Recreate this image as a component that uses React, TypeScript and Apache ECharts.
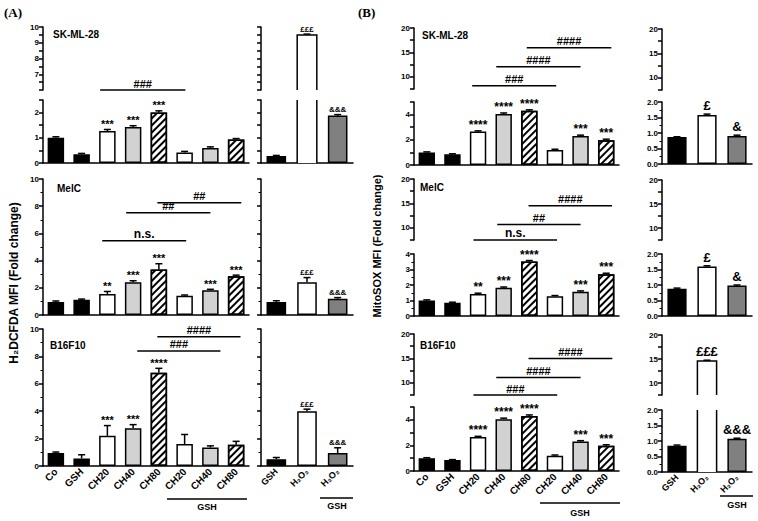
import React, { useEffect, useRef } from 'react';
import * as echarts from 'echarts';

const FONT = '"Liberation Sans", Arial, sans-serif';

const MAIN_CATS = ['Co', 'GSH', 'CH20', 'CH40', 'CH80', 'CH20', 'CH40', 'CH80'];
const SIDE_CATS = ['GSH', 'H₂O₂', 'H₂O₂'];

// ---- Panel A (H2DCFDA) ----
const A_SK_VALUES = [1.0, 0.35, 1.27, 1.43, 2.0, 0.42, 0.6, 0.93];
const A_SK_ERRORS = [0.04, 0.03, 0.06, 0.05, 0.07, 0.04, 0.04, 0.04];
const A_SK_STARS = ['', '', '***', '***', '***', '', '', ''];
const A_SK_BRACKETS: [number, number, number, string][] = [[1.72, 5.03, 6.0, '###']];
const A_SK_SIDE_VALUES = [0.28, 9.5, 1.88];
const A_SK_SIDE_ERRORS = [0.02, 0.05, 0.04];
const A_SK_SIDE_MARKS = ['', '£££', '&&&'];

const A_MELC_VALUES = [0.95, 1.12, 1.55, 2.4, 3.35, 1.42, 1.82, 2.85];
const A_MELC_ERRORS = [0.08, 0.05, 0.18, 0.12, 0.42, 0.05, 0.07, 0.08];
const A_MELC_STARS = ['', '', '**', '***', '***', '', '***', '***'];
const A_MELC_BRACKETS: [number, number, number, string][] = [
  [1.8, 5.06, 5.46, 'n.s.'],
  [2.73, 6.0, 7.52, '##'],
  [3.94, 7.2, 8.26, '##'],
];
const A_MELC_SIDE_VALUES = [0.95, 2.4, 1.2];
const A_MELC_SIDE_ERRORS = [0.1, 0.35, 0.08];
const A_MELC_SIDE_MARKS = ['', '£££', '&&&'];

const A_B16_VALUES = [0.95, 0.55, 2.2, 2.75, 6.8, 1.6, 1.35, 1.55];
const A_B16_ERRORS = [0.07, 0.27, 0.75, 0.27, 0.33, 0.7, 0.12, 0.25];
const A_B16_STARS = ['', '', '***', '***', '****', '', '', ''];
const A_B16_BRACKETS: [number, number, number, string][] = [
  [3.16, 6.39, 8.4, '###'],
  [3.94, 7.17, 9.44, '####'],
];
const A_B16_SIDE_VALUES = [0.5, 4.0, 0.95];
const A_B16_SIDE_ERRORS = [0.12, 0.15, 0.38];
const A_B16_SIDE_MARKS = ['', '£££', '&&&'];

// ---- Panel B (MitoSOX) ----
const B_SK_VALUES = [1.0, 0.85, 2.65, 4.05, 4.3, 1.2, 2.3, 1.97];
const B_SK_ERRORS = [0.04, 0.04, 0.06, 0.08, 0.08, 0.05, 0.07, 0.08];
const B_SK_STARS = ['', '', '****', '****', '****', '', '***', '***'];
const B_SK_BRACKETS: [number, number, number, string][] = [
  [1.77, 5.05, 8.18, '###'],
  [2.71, 6.0, 12.07, '####'],
  [3.9, 7.2, 15.96, '####'],
];
const B_SK_SIDE_VALUES = [0.87, 1.58, 0.9];
const B_SK_SIDE_ERRORS = [0.01, 0.03, 0.03];
const B_SK_SIDE_MARKS = ['', '£', '&'];

const B_MELC_VALUES = [1.0, 0.85, 1.42, 1.82, 3.52, 1.27, 1.57, 2.7];
const B_MELC_ERRORS = [0.04, 0.04, 0.05, 0.05, 0.06, 0.05, 0.05, 0.06];
const B_MELC_STARS = ['', '', '**', '***', '****', '', '***', '***'];
const B_MELC_BRACKETS: [number, number, number, string][] = [
  [1.82, 5.08, 7.5, 'n.s.'],
  [2.75, 6.0, 10.7, '##'],
  [3.97, 7.23, 14.5, '####'],
];
const B_MELC_SIDE_VALUES = [0.88, 1.6, 0.98];
const B_MELC_SIDE_ERRORS = [0.02, 0.02, 0.02];
const B_MELC_SIDE_MARKS = ['', '£', '&'];

const B_B16_VALUES = [1.0, 0.85, 2.65, 4.05, 4.3, 1.2, 2.3, 1.97];
const B_B16_ERRORS = [0.04, 0.04, 0.06, 0.08, 0.08, 0.05, 0.07, 0.08];
const B_B16_STARS = ['', '', '****', '****', '****', '', '***', '***'];
const B_B16_BRACKETS: [number, number, number, string][] = [
  [1.82, 5.09, 7.5, '###'],
  [2.71, 6.0, 11.1, '####'],
  [3.97, 7.24, 15.0, '####'],
];
const B_B16_SIDE_VALUES = [0.85, 14.6, 1.07];
const B_B16_SIDE_ERRORS = [0.02, 0.15, 0.02];
const B_B16_SIDE_MARKS = ['', '£££', '&&&'];

// ---- styles / layout ----
const MAIN_FILLS = ['black', 'black', 'white', 'light', 'hatch', 'white', 'light', 'hatch'];
const SIDE_FILLS = ['black', 'white', 'dark'];
const BAR_FRAC = 0.64;

type Seg = { top: number; height: number; min: number; max: number; interval: number; minor?: number; fmt?: (v: number) => string };

const intFrom = (lo: number) => (v: number) => (Math.abs(v - Math.round(v)) < 1e-6 && v >= lo ? String(Math.round(v)) : '');
const evenLabel = (v: number) => (Math.abs(v - Math.round(v)) < 1e-6 && Math.round(v) % 2 === 0 ? String(Math.round(v)) : '');
const fiveLabel = (v: number) => (Math.abs(v / 5 - Math.round(v / 5)) < 1e-6 && v >= 10 ? String(Math.round(v)) : '');
const oneDec = (v: number) => v.toFixed(1);
const plain = (v: number) => String(v);

const segA1 = (): Seg[] => [
  { top: 27, height: 63, min: 6, max: 10, interval: 0.5, fmt: intFrom(7) },
  { top: 100, height: 63, min: 0, max: 2.5, interval: 0.5, fmt: intFrom(0) },
];
const segA2 = (): Seg[] => [{ top: 179, height: 136, min: 0, max: 10, interval: 2, minor: 2, fmt: plain }];
const segA3 = (): Seg[] => [{ top: 329, height: 137, min: 0, max: 10, interval: 2, minor: 2, fmt: plain }];
const topB = (top: number, height: number): Seg => ({ top, height, min: 7.5, max: 20, interval: 2.5, fmt: fiveLabel });

const FILL_STYLES: Record<string, any> = {
  black: { color: '#000', borderColor: '#000', borderWidth: 1.5 },
  white: { color: '#fff', borderColor: '#000', borderWidth: 1.5 },
  light: { color: '#d2d2d2', borderColor: '#000', borderWidth: 1.5 },
  dark: { color: '#808080', borderColor: '#000', borderWidth: 1.5 },
  hatch: {
    color: '#fff', borderColor: '#000', borderWidth: 1.5,
    decal: { symbol: 'rect', symbolSize: 1, dashArrayX: [1, 0], dashArrayY: [2, 3], rotation: -Math.PI / 4, color: '#000' },
  },
};

type ChartDef = {
  left: number; width: number; segs: Seg[]; cats: string[]; values: number[]; errors: number[]; marks: string[];
  brackets?: [number, number, number, string][]; fills: string[]; yLabels: boolean; xLabels: boolean; xFont: number; markSize: number; markGap: number;
};

function buildOption() {
  const grids: any[] = [], xAxes: any[] = [], yAxes: any[] = [], series: any[] = [];
  const CAP = 3.5;
  const LINE = { stroke: '#000', lineWidth: 1.5 };

  const charts: ChartDef[] = [
    { left: 43, width: 206, segs: segA1(), cats: MAIN_CATS, values: A_SK_VALUES, errors: A_SK_ERRORS, marks: A_SK_STARS, brackets: A_SK_BRACKETS, fills: MAIN_FILLS, yLabels: true, xLabels: false, xFont: 10, markSize: 11, markGap: 0 },
    { left: 261, width: 92, segs: segA1(), cats: SIDE_CATS, values: A_SK_SIDE_VALUES, errors: A_SK_SIDE_ERRORS, marks: A_SK_SIDE_MARKS, fills: SIDE_FILLS, yLabels: false, xLabels: false, xFont: 9, markSize: 8, markGap: 1 },
    { left: 43, width: 206, segs: segA2(), cats: MAIN_CATS, values: A_MELC_VALUES, errors: A_MELC_ERRORS, marks: A_MELC_STARS, brackets: A_MELC_BRACKETS, fills: MAIN_FILLS, yLabels: true, xLabels: false, xFont: 10, markSize: 11, markGap: 0 },
    { left: 261, width: 92, segs: segA2(), cats: SIDE_CATS, values: A_MELC_SIDE_VALUES, errors: A_MELC_SIDE_ERRORS, marks: A_MELC_SIDE_MARKS, fills: SIDE_FILLS, yLabels: false, xLabels: false, xFont: 9, markSize: 8, markGap: 1 },
    { left: 43, width: 206, segs: segA3(), cats: MAIN_CATS, values: A_B16_VALUES, errors: A_B16_ERRORS, marks: A_B16_STARS, brackets: A_B16_BRACKETS, fills: MAIN_FILLS, yLabels: true, xLabels: true, xFont: 10, markSize: 11, markGap: 0 },
    { left: 261, width: 92, segs: segA3(), cats: SIDE_CATS, values: A_B16_SIDE_VALUES, errors: A_B16_SIDE_ERRORS, marks: A_B16_SIDE_MARKS, fills: SIDE_FILLS, yLabels: false, xLabels: true, xFont: 9, markSize: 8, markGap: 1 },

    { left: 414, width: 205, segs: [topB(28, 61), { top: 102, height: 63, min: 0, max: 5, interval: 1, fmt: evenLabel }], cats: MAIN_CATS, values: B_SK_VALUES, errors: B_SK_ERRORS, marks: B_SK_STARS, brackets: B_SK_BRACKETS, fills: MAIN_FILLS, yLabels: true, xLabels: false, xFont: 10, markSize: 12, markGap: 0 },
    { left: 662, width: 90, segs: [topB(29, 61), { top: 102, height: 62, min: 0, max: 2, interval: 0.5, minor: 2, fmt: oneDec }], cats: SIDE_CATS, values: B_SK_SIDE_VALUES, errors: B_SK_SIDE_ERRORS, marks: B_SK_SIDE_MARKS, fills: SIDE_FILLS, yLabels: true, xLabels: false, xFont: 9, markSize: 13, markGap: 2 },
    { left: 414, width: 205, segs: [topB(179, 61), { top: 254, height: 62, min: 0, max: 4, interval: 1, minor: 2, fmt: plain }], cats: MAIN_CATS, values: B_MELC_VALUES, errors: B_MELC_ERRORS, marks: B_MELC_STARS, brackets: B_MELC_BRACKETS, fills: MAIN_FILLS, yLabels: true, xLabels: false, xFont: 10, markSize: 12, markGap: 0 },
    { left: 662, width: 90, segs: [topB(180, 60), { top: 254, height: 62, min: 0, max: 2, interval: 0.5, minor: 2, fmt: oneDec }], cats: SIDE_CATS, values: B_MELC_SIDE_VALUES, errors: B_MELC_SIDE_ERRORS, marks: B_MELC_SIDE_MARKS, fills: SIDE_FILLS, yLabels: true, xLabels: false, xFont: 9, markSize: 13, markGap: 2 },
    { left: 414, width: 205, segs: [topB(334, 61), { top: 407, height: 64, min: 0, max: 5, interval: 1, fmt: evenLabel }], cats: MAIN_CATS, values: B_B16_VALUES, errors: B_B16_ERRORS, marks: B_B16_STARS, brackets: B_B16_BRACKETS, fills: MAIN_FILLS, yLabels: true, xLabels: true, xFont: 10, markSize: 12, markGap: 0 },
    { left: 662, width: 90, segs: [topB(335, 60), { top: 410, height: 62, min: 0, max: 2, interval: 0.5, minor: 2, fmt: oneDec }], cats: SIDE_CATS, values: B_B16_SIDE_VALUES, errors: B_B16_SIDE_ERRORS, marks: B_B16_SIDE_MARKS, fills: SIDE_FILLS, yLabels: true, xLabels: true, xFont: 9, markSize: 13, markGap: 2 },
  ];

  charts.forEach((c) => {
    const n = c.segs.length;
    c.segs.forEach((s, j) => {
      const g = grids.length;
      const isBottom = j === n - 1;
      // a bar is "cut" by the axis break when it is drawn in the upper segment, or rises above the lower one
      const isCut = (v: number) => (!isBottom) || (n > 1 && v > s.max);
      grids.push({ left: c.left, top: s.top, width: c.width, height: s.height, containLabel: false });
      xAxes.push({
        type: 'category', gridIndex: g, data: c.cats,
        axisLine: { show: isBottom, onZero: false, lineStyle: { color: '#000', width: 1.5 } },
        axisTick: { show: false },
        axisLabel: { show: isBottom && c.xLabels, rotate: 45, interval: 0, color: '#000', fontSize: c.xFont, fontWeight: 'bold', fontFamily: FONT, margin: 4 },
        splitLine: { show: false },
      });
      yAxes.push({
        type: 'value', gridIndex: g, min: s.min, max: s.max, interval: s.interval,
        axisLine: { show: true, lineStyle: { color: '#000', width: 1.5 } },
        axisTick: { show: true, length: 4, lineStyle: { color: '#000', width: 1.5 } },
        minorTick: s.minor ? { show: true, splitNumber: s.minor, length: 2.5, lineStyle: { color: '#000', width: 1 } } : { show: false },
        splitLine: { show: false }, minorSplitLine: { show: false },
        axisLabel: { show: c.yLabels, formatter: s.fmt, color: '#000', fontSize: 8, fontWeight: 'bold', fontFamily: FONT, margin: 4, showMinLabel: true, showMaxLabel: true },
      });
      series.push({
        type: 'bar', xAxisIndex: g, yAxisIndex: g, barWidth: `${BAR_FRAC * 100}%`, clip: true, silent: true,
        data: c.values.map((v, i) => {
          const shown = isBottom || v > s.min;
          const st = FILL_STYLES[c.fills[i]];
          return { value: shown ? v : '-', itemStyle: shown && isCut(v) ? { ...st, borderWidth: 0 } : st };
        }),
      });
      // open outlines for bars cut by the axis break
      const cutItems = c.values
        .map((v, i) => [i, v])
        .filter((d) => (isBottom || d[1] > s.min) && isCut(d[1]));
      if (cutItems.length) {
        series.push({
          type: 'custom', xAxisIndex: g, yAxisIndex: g, silent: true, clip: false, z: 3,
          data: cutItems,
          renderItem: (_p: any, api: any) => {
            const i = api.value(0), v = api.value(1);
            const hw = (api.size([1, 0])[0] * BAR_FRAC) / 2;
            const pb = api.coord([i, s.min]);
            const pt = api.coord([i, Math.min(v, s.max)]);
            const x = pb[0];
            if (v <= s.max) {
              return {
                type: 'polyline',
                shape: { points: [[x - hw, pb[1]], [x - hw, pt[1]], [x + hw, pt[1]], [x + hw, pb[1]]] },
                style: { ...LINE, fill: null },
              };
            }
            return {
              type: 'group',
              children: [
                { type: 'line', shape: { x1: x - hw, y1: pb[1], x2: x - hw, y2: pt[1] }, style: LINE },
                { type: 'line', shape: { x1: x + hw, y1: pb[1], x2: x + hw, y2: pt[1] }, style: LINE },
              ],
            };
          },
        });
      }
      const items = c.values
        .map((v, i) => [i, v, c.errors[i]])
        .filter((d) => (isBottom ? d[1] <= s.max : d[1] > s.min));
      series.push({
        type: 'custom', xAxisIndex: g, yAxisIndex: g, silent: true, clip: false, z: 4,
        data: items,
        renderItem: (_p: any, api: any) => {
          const i = api.value(0), v = api.value(1), e = api.value(2);
          const base = api.coord([i, v]);
          const top = api.coord([i, v + e]);
          const children: any[] = [
            { type: 'line', shape: { x1: base[0], y1: base[1], x2: top[0], y2: top[1] }, style: LINE },
            { type: 'line', shape: { x1: top[0] - CAP, y1: top[1], x2: top[0] + CAP, y2: top[1] }, style: LINE },
          ];
          const mark = c.marks[i];
          if (mark) {
            children.push({
              type: 'text', x: top[0], y: top[1] - c.markGap,
              style: { text: mark, fill: '#000', fontSize: c.markSize, fontWeight: 'bold', fontFamily: FONT, align: 'center', verticalAlign: 'bottom', textAlign: 'center', textVerticalAlign: 'bottom' },
            });
          }
          return { type: 'group', children };
        },
      });
      if (c.brackets && j === 0) {
        const br = c.brackets;
        series.push({
          type: 'custom', xAxisIndex: g, yAxisIndex: g, silent: true, clip: false, z: 5,
          data: br.map((b) => [Math.floor(b[0]), b[2]]),
          renderItem: (p: any, api: any) => {
            const b = br[p.dataIndex];
            const bw = api.size([1, 0])[0];
            const p1 = api.coord([Math.floor(b[0]), b[2]]);
            const p2 = api.coord([Math.floor(b[1]), b[2]]);
            const x1 = p1[0] + (b[0] - Math.floor(b[0])) * bw;
            const x2 = p2[0] + (b[1] - Math.floor(b[1])) * bw;
            const y = p1[1];
            const big = b[3] === 'n.s.';
            return {
              type: 'group',
              children: [
                { type: 'line', shape: { x1, y1: y, x2, y2: y }, style: LINE },
                {
                  type: 'text', x: (x1 + x2) / 2, y: y - 1,
                  style: { text: b[3], fill: '#000', fontSize: big ? 12 : 11, fontWeight: 'bold', fontFamily: FONT, align: 'center', verticalAlign: 'bottom', textAlign: 'center', textVerticalAlign: 'bottom' },
                },
              ],
            };
          },
        });
      }
    });
  });

  const txt = (text: string, x: number, y: number, size: number, extra: any = {}) => ({
    type: 'text', x, y, silent: true, ...extra,
    style: { text, fill: '#000', fontSize: size, fontWeight: 'bold', fontFamily: FONT, align: extra.align || 'left', verticalAlign: 'middle', textAlign: extra.align || 'left', textVerticalAlign: 'middle' },
  });
  const hline = (x1: number, x2: number, y: number) => ({ type: 'line', silent: true, shape: { x1, y1: y, x2, y2: y }, style: { stroke: '#000', lineWidth: 1.5 } });

  const graphic: any[] = [
    { type: 'text', x: 4, y: 12, silent: true, style: { text: '(A)', fill: '#000', fontSize: 13, fontWeight: 'bold', fontFamily: '"Liberation Serif", "Times New Roman", serif', verticalAlign: 'middle', textVerticalAlign: 'middle' } },
    { type: 'text', x: 358, y: 12, silent: true, style: { text: '(B)', fill: '#000', fontSize: 13, fontWeight: 'bold', fontFamily: '"Liberation Serif", "Times New Roman", serif', verticalAlign: 'middle', textVerticalAlign: 'middle' } },
    txt('SK-ML-28', 53, 34, 10),
    txt('MelC', 57, 188, 10),
    txt('B16F10', 50, 345, 10),
    txt('SK-ML-28', 422, 35, 10),
    txt('MelC', 420, 187, 10),
    txt('B16F10', 420, 345, 10),
    txt('H₂DCFDA MFI (Fold change)', 14, 283, 12, { rotation: Math.PI / 2, align: 'center' }),
    txt('MitoSOX MFI (Fold change)', 377, 246, 11, { rotation: Math.PI / 2, align: 'center' }),
    hline(167, 247, 499),
    txt('GSH', 207, 507, 9, { align: 'center' }),
    hline(320, 353, 498),
    txt('GSH', 337, 506, 9, { align: 'center' }),
    hline(540, 620, 503),
    txt('GSH', 580, 513, 9, { align: 'center' }),
    hline(720, 753, 496),
    txt('GSH', 737, 505, 9, { align: 'center' }),
  ];

  return { animation: false, backgroundColor: '#fff', grid: grids, xAxis: xAxes, yAxis: yAxes, series, graphic };
}

export default function App() {
  const ref = useRef<HTMLDivElement>(null);
  useEffect(() => {
    if (!ref.current) return;
    const chart = echarts.init(ref.current, undefined, { renderer: 'svg' });
    chart.setOption(buildOption() as any);
    return () => chart.dispose();
  }, []);
  return <div ref={ref} style={{ position: 'absolute', left: 0, top: 0, width: 758, height: 521 }} />;
}
